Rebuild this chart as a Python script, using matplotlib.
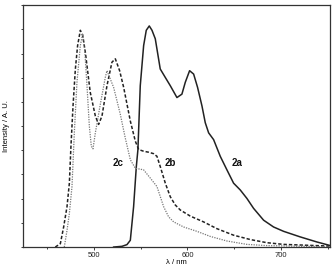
import matplotlib
matplotlib.use("Agg")
import matplotlib.pyplot as plt
from matplotlib.ticker import MultipleLocator, NullFormatter

plt.rcParams['font.family'] = ['Liberation Sans', 'DejaVu Sans']

# 2a (solid)
wl_2a = [521.3, 530.2, 535.5, 539.1, 542.6, 545.5, 547.2, 549.7, 553.3, 556.1, 559.3,
         562.2, 565.7, 571.0, 576.4, 581.7, 588.8, 594.1, 597.7, 602.3, 606.6, 610.8,
         615.5, 619.0, 622.6, 627.9, 635.0, 642.1, 649.2, 656.3, 663.4, 670.5, 681.2,
         691.8, 702.5, 720.2, 738.0, 751.5]
int_2a = [0.0, 0.03, 0.10, 0.28, 1.67, 3.33, 4.03, 6.67, 8.33, 8.96, 9.14,
          8.96, 8.61, 7.36, 7.01, 6.67, 6.18, 6.32, 6.81, 7.29, 7.15, 6.60,
          5.83, 5.14, 4.72, 4.44, 3.75, 3.19, 2.64, 2.36, 2.01, 1.60, 1.11,
          0.83, 0.65, 0.42, 0.21, 0.07]

# 2b (dashed)
wl_2b = [459.1, 464.5, 468.0, 471.6, 474.1, 475.8, 478.0, 480.5, 482.9, 485.8, 488.3,
         491.1, 496.4, 501.8, 505.3, 508.9, 514.2, 519.5, 523.1, 527.7, 532.0, 539.1,
         544.4, 548.0, 553.3, 558.6, 563.9, 567.5, 571.0, 576.4, 581.7, 587.0, 592.4,
         603.0, 617.2, 631.4, 649.2, 667.0, 684.7, 702.5, 751.5]
int_2b = [0.0, 0.14, 0.83, 1.67, 2.64, 4.17, 5.83, 7.36, 8.33, 8.96, 8.75,
          8.06, 6.39, 5.42, 5.07, 5.42, 6.67, 7.64, 7.78, 7.29, 6.60, 5.21,
          4.38, 4.03, 3.96, 3.92, 3.86, 3.75, 3.33, 2.64, 2.08, 1.74, 1.53,
          1.28, 1.04, 0.76, 0.49, 0.31, 0.18, 0.11, 0.04]

# 2c (dotted)
wl_2c = [468.7, 471.6, 474.1, 476.9, 479.4, 482.2, 485.8, 488.3, 490.4, 492.9, 495.4,
         497.5, 499.3, 501.8, 507.1, 512.4, 514.2, 517.8, 521.3, 528.4, 533.7, 539.1,
         544.4, 553.3, 560.4, 567.5, 574.6, 579.9, 585.3, 595.9, 610.1, 624.3, 642.1,
         663.4, 684.7, 751.5]
int_2c = [0.0, 0.69, 1.39, 2.50, 4.72, 6.81, 8.33, 8.82, 8.19, 6.67, 5.00,
          4.17, 4.06, 4.72, 5.90, 7.01, 7.29, 6.94, 6.60, 5.49, 4.51, 3.61,
          3.26, 3.19, 2.85, 2.50, 1.67, 1.25, 1.04, 0.83, 0.65, 0.44, 0.25,
          0.11, 0.06, 0.01]

labels = ["2a", "2b", "2c"]
label_x = [652.7, 582.0, 525.6]
label_y = [3.47, 3.47, 3.47]

fig = plt.figure(figsize=(3.33, 2.70), dpi=100)
ax = fig.add_axes([0.070, 0.085, 0.921, 0.896])

ax.plot(wl_2a, int_2a, color='#222222', lw=1.1, ls='-')
ax.plot(wl_2b, int_2b, color='#222222', lw=1.1, ls=(0, (2.2, 1.3)))
ax.plot(wl_2c, int_2c, color='#777777', lw=0.9, ls=(0, (1.0, 1.0)))

for t, x, y in zip(labels, label_x, label_y):
    ax.text(x, y, t, fontsize=7, fontweight='bold', ha='center', va='center', color='#111111')

ax.set_xlim(425, 752)
ax.set_ylim(0, 10)
ax.xaxis.set_major_locator(MultipleLocator(100))
ax.xaxis.set_minor_locator(MultipleLocator(50))
ax.yaxis.set_major_locator(MultipleLocator(1))
ax.yaxis.set_major_formatter(NullFormatter())
ax.tick_params(axis='both', which='both', direction='out', length=1.8, width=0.6,
               labelsize=5.5, pad=1.5, colors='#222222')
ax.tick_params(axis='x', which='minor', length=1.2)
for s in ax.spines.values():
    s.set_linewidth(0.9)
    s.set_color('#333333')

ax.set_xlabel('λ / nm', fontsize=5.5, labelpad=0.5)
ax.set_ylabel('Intensity / A. U.', fontsize=5.5, labelpad=6)

fig.savefig('out.png', dpi=100)
